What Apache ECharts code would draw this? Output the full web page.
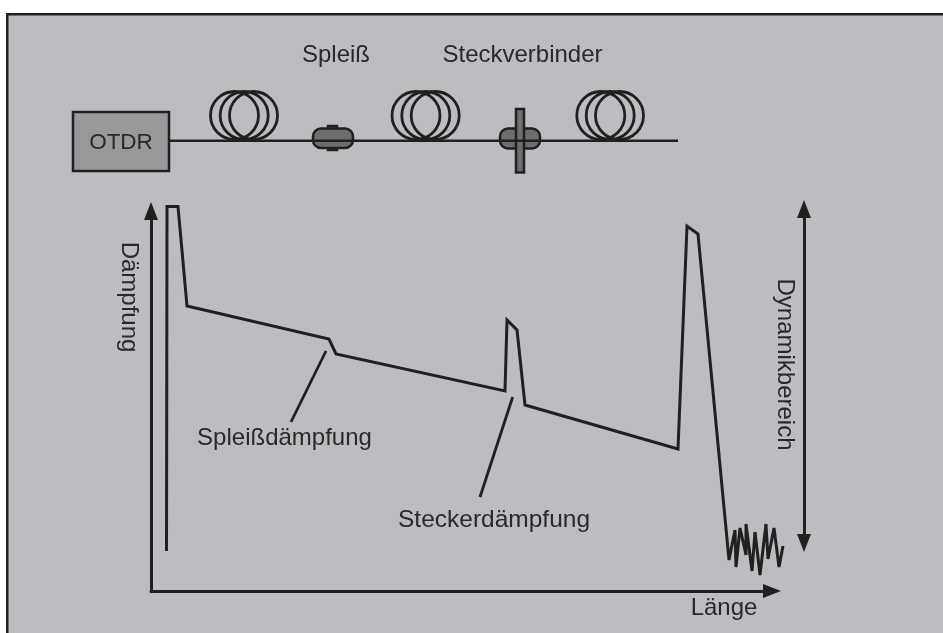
<!DOCTYPE html>
<html>
<head>
<meta charset="utf-8">
<title>OTDR</title>
<script src="https://cdn.jsdelivr.net/npm/echarts@6/dist/echarts.min.js"></script>
<style>
  html, body { margin: 0; padding: 0; background: #fff; }
  #main { width: 943px; height: 633px; }
</style>
</head>
<body>
<div id="main"></div>
<script>
// Rückstreukurve, x = Länge, y = Dämpfung
const traceLength = [15.5, 16, 27, 36, 178, 185, 354, 356, 366, 374, 527, 536, 547,
  578, 584, 585, 589, 595, 595, 601, 604, 609, 615, 617, 623, 628, 632];
const traceLoss = [40, 384.5, 384.5, 285, 252, 237, 200, 271, 261, 186, 142, 365, 357,
  31, 61, 24, 63, 36, 67, 20, 59, 16, 67, 32, 63, 24, 45];

// Hinweislinien zu den Beschriftungen
const spliceLeader = [[175, 240], [140, 169]];
const connectorLeader = [[361.7, 194], [329, 94]];

// Schema oben: Faserspulen, Faser, Bauteile
const coilX = [234.5, 244.2, 253.5, 416, 425.8, 435.2, 600.8, 610.2, 619.5];
const coilY = [115.5, 115.5, 115.5, 115.5, 115.5, 115.5, 115.5, 115.5, 115.5];
const fiberX = [169, 678];
const fiberY = [140.7, 140.7];
const partNames = ["otdr", "spliceTab", "spliceBody", "connectorBody", "connectorPlate"];
const partLeft = [73, 328, 313, 500, 516];
const partTop = [112, 126, 128.5, 128.5, 109];
const partRight = [169, 337, 353, 540, 524];
const partBottom = [171, 150, 148, 148.5, 172.5];

const ink = "#231f20";
const partStyle = {
  otdr: { fill: "#98999b", r: 0 },
  spliceTab: { fill: "#6d6e70", r: 0 },
  spliceBody: { fill: "#6d6e70", r: 8 },
  connectorBody: { fill: "#6d6e70", r: 8 },
  connectorPlate: { fill: "#6d6e70", r: 0 }
};

function pageText(text, x, y, rotated, size) {
  return {
    type: "text",
    x: x,
    y: y,
    z: 10,
    rotation: rotated ? -Math.PI / 2 : 0,
    style: {
      text: text,
      fill: "#2b2829",
      font: (size || 24) + 'px "Liberation Sans", Arial, sans-serif',
      align: "center",
      verticalAlign: "middle"
    }
  };
}

function hiddenAxis(index, min, max, inverse) {
  return { show: false, type: "value", gridIndex: index, min: min, max: max, inverse: !!inverse };
}

function arrowAxis(index, max, symbol, offset) {
  return {
    type: "value",
    gridIndex: index,
    min: 0,
    max: max,
    axisLine: {
      show: true,
      onZero: false,
      symbol: symbol,
      symbolSize: [14, 18],
      symbolOffset: offset,
      lineStyle: { color: ink, width: 3 }
    },
    axisTick: { show: false },
    axisLabel: { show: false },
    splitLine: { show: false }
  };
}

function leaderSeries(name, points) {
  return {
    name: name,
    type: "line",
    data: points,
    showSymbol: false,
    silent: true,
    lineStyle: { color: ink, width: 2.8, cap: "butt" }
  };
}

let myChart = echarts.init(document.getElementById("main"), null, { renderer: "canvas" });
myChart.setOption({
  animation: false,
  backgroundColor: "#fff",
  graphic: [
    {
      type: "rect",
      z: -10,
      shape: { x: 7.25, y: 14.25, width: 960, height: 640 },
      style: { fill: "#bcbdc0", stroke: ink, lineWidth: 2.5 }
    },
    pageText("Spleiß", 336, 55),
    pageText("Steckverbinder", 522.5, 55),
    pageText("OTDR", 121, 143, false, 22.5),
    pageText("Dämpfung", 129, 297, true),
    pageText("Dynamikbereich", 784.5, 364.5, true),
    pageText("Spleißdämpfung", 284.5, 438),
    pageText("Steckerdämpfung", 494, 520, false, 24.5),
    pageText("Länge", 724, 608)
  ],
  grid: [
    { left: 151, top: 200, width: 640, height: 391 },
    { left: 0, top: 0, width: 943, height: 633 },
    { left: 804, top: 218, width: 1, height: 316 },
    { left: 151, top: 220, width: 612, height: 371 }
  ],
  xAxis: [
    hiddenAxis(0, 0, 640),
    hiddenAxis(1, 0, 943),
    hiddenAxis(2, 0, 1),
    arrowAxis(3, 612, ["none", "triangle"], [0, 9])
  ],
  yAxis: [
    hiddenAxis(0, 0, 391),
    hiddenAxis(1, 0, 633, true),
    arrowAxis(2, 316, ["triangle", "triangle"], [-9, 9]),
    arrowAxis(3, 371, ["none", "triangle"], [0, 9])
  ],
  series: [
    {
      name: "Rückstreukurve",
      type: "line",
      data: traceLength.map(function(x, i) { return [x, traceLoss[i]]; }),
      showSymbol: false,
      silent: true,
      lineStyle: { color: ink, width: 3, join: "miter", miterLimit: 4 }
    },
    leaderSeries("Spleißdämpfung", spliceLeader),
    leaderSeries("Steckerdämpfung", connectorLeader),
    {
      name: "Faser",
      type: "line",
      xAxisIndex: 1,
      yAxisIndex: 1,
      data: fiberX.map(function(x, i) { return [x, fiberY[i]]; }),
      showSymbol: false,
      silent: true,
      lineStyle: { color: ink, width: 2.6 }
    },
    {
      name: "Spulen",
      type: "scatter",
      xAxisIndex: 1,
      yAxisIndex: 1,
      symbol: "circle",
      symbolSize: 48,
      silent: true,
      data: coilX.map(function(x, i) { return [x, coilY[i]]; }),
      itemStyle: { color: "transparent", borderColor: ink, borderWidth: 2.8, opacity: 1 }
    },
    {
      name: "Bauteile",
      type: "custom",
      xAxisIndex: 1,
      yAxisIndex: 1,
      silent: true,
      clip: false,
      data: partNames.map(function(name, i) {
        return [partLeft[i], partTop[i], partRight[i], partBottom[i]];
      }),
      renderItem: function(params, api) {
        const topLeft = api.coord([api.value(0), api.value(1)]);
        const bottomRight = api.coord([api.value(2), api.value(3)]);
        const look = partStyle[partNames[params.dataIndex]];
        return {
          type: "rect",
          shape: {
            x: topLeft[0],
            y: topLeft[1],
            width: bottomRight[0] - topLeft[0],
            height: bottomRight[1] - topLeft[1],
            r: look.r
          },
          style: { fill: look.fill, stroke: ink, lineWidth: 2.5 }
        };
      }
    }
  ]
});
</script>
</body>
</html>
